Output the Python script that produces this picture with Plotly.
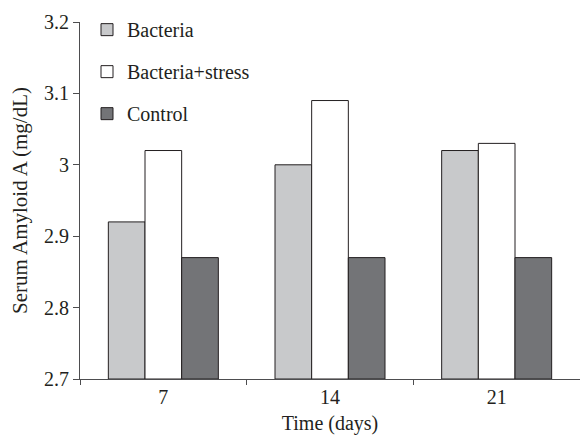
import plotly.graph_objects as go

days = ["7", "14", "21"]
bacteria = [2.92, 3.00, 3.02]
bacteria_stress = [3.02, 3.09, 3.03]
control = [2.87, 2.87, 2.87]
y_ticks = [2.7, 2.8, 2.9, 3.0, 3.1, 3.2]
y_tick_labels = ["2.7", "2.8", "2.9", "3", "3.1", "3.2"]

FONT = "Liberation Serif"
INK = "#231f20"
AXIS = "#4d4d4f"
BASE = 2.7

series = [
    ("Bacteria", bacteria, "#c8c9cb"),
    ("Bacteria+stress", bacteria_stress, "#ffffff"),
    ("Control", control, "#737477"),
]

fig = go.Figure()
for i, (name, vals, color) in enumerate(series):
    fig.add_trace(go.Bar(
        x=days, y=[v - BASE for v in vals], base=BASE, name=name,
        marker=dict(color=color, line=dict(color=INK, width=1)),
        legendgroup=f"g{i}",
    ))

# page body has an 8px margin, so the figure is drawn 8px in from the window edges
fig.update_layout(
    width=580, height=429,
    margin=dict(l=72, r=8, t=14, b=58, autoexpand=False),
    paper_bgcolor="white", plot_bgcolor="white",
    barmode="group", bargap=0.34, bargroupgap=0,
    font=dict(family=FONT, size=20, color=INK),
    showlegend=True,
    legend=dict(x=0.014, y=0.995, yref="container", xanchor="left", yanchor="top",
                bgcolor="rgba(0,0,0,0)", traceorder="grouped",
                tracegroupgap=13, font=dict(family=FONT, size=20, color=INK)),
    xaxis=dict(
        showline=True, linecolor=AXIS, linewidth=1, automargin=False,
        ticks="outside", tickson="boundaries", ticklen=5, tickcolor=AXIS,
        title=dict(text="Time (days)", standoff=8, font=dict(size=20)),
        tickfont=dict(size=20), showgrid=False,
    ),
    yaxis=dict(
        range=[2.7, 3.2], tickvals=y_ticks, ticktext=y_tick_labels,
        showline=True, linecolor=AXIS, linewidth=1, automargin=False,
        ticks="outside", ticklen=6, tickcolor=AXIS,
        title=dict(text="Serum Amyloid A (mg/dL)", standoff=10, font=dict(size=21)),
        tickfont=dict(size=20), showgrid=False, zeroline=False,
    ),
)

fig.write_html("out.html")
